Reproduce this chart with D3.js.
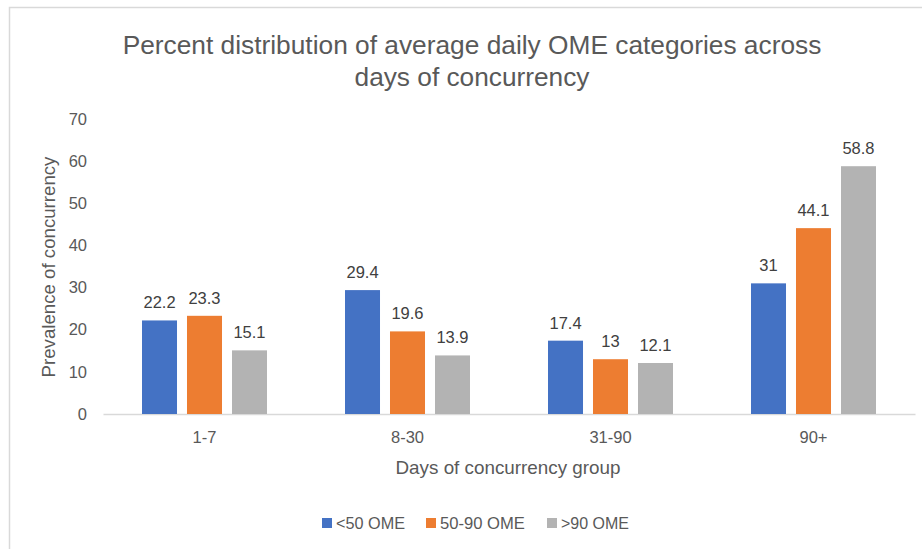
<!DOCTYPE html>
<html>
<head>
<meta charset="utf-8">
<script src="https://cdn.jsdelivr.net/npm/d3@7"></script>
<style>
  html, body { margin: 0; padding: 0; background: #fff; }
  svg { display: block; font-family: "Liberation Sans", Arial, sans-serif; }
</style>
</head>
<body>
<svg id="chart" width="922" height="549"></svg>
<script>
// ---- data ----
const categories = ["1-7", "8-30", "31-90", "90+"];
const seriesNames = ["<50 OME", "50-90 OME", ">90 OME"];
const under50 = [22.2, 29.4, 17.4, 31];
const from50to90 = [23.3, 19.6, 13, 44.1];
const over90 = [15.1, 13.9, 12.1, 58.8];
const yTicks = [0, 10, 20, 30, 40, 50, 60, 70];
const titleLines = ["Percent distribution of average daily OME categories across", "days of concurrency"];
const xTitle = "Days of concurrency group";
const yTitle = "Prevalence of concurrency";

const seriesValues = [under50, from50to90, over90];
const colors = ["#4472c4", "#ed7d31", "#b3b3b3"];

const svg = d3.select("#chart");
const W = 922, H = 549;

// chart frame (top + left edges visible)
svg.append("rect").attr("x", 9.5).attr("y", 7.5).attr("width", W + 20).attr("height", H + 20)
  .attr("fill", "#fff").attr("stroke", "#d9d9d9").attr("stroke-width", 1.5);

function fit(sel, target) {
  sel.each(function () {
    const cur = parseFloat(this.getAttribute("font-size"));
    const w = this.getComputedTextLength();
    if (w > 0) this.setAttribute("font-size", (cur * target / w).toFixed(2));
  });
}

// title
const titleTargets = [699, 235];
titleLines.forEach((t, i) => {
  const el = svg.append("text").attr("x", 472).attr("y", 54 + i * 32)
    .attr("text-anchor", "middle").attr("font-size", 24).attr("fill", "#595959").text(t);
  fit(el, titleTargets[i]);
});

// scales
const x0 = d3.scaleBand().domain(categories).range([103, 915]).paddingInner(0).paddingOuter(0);
const x1 = d3.scaleBand().domain(seriesNames).range([-62.5, 62.5]).paddingInner(0.222).paddingOuter(0);
const y = d3.scaleLinear().domain([0, 70]).range([414, 119]);

// y axis (labels only)
const yAxis = d3.axisLeft(y).tickValues(yTicks).tickSize(0).tickPadding(0).tickFormat(d3.format("d"));
const gy = svg.append("g").attr("transform", "translate(87,0)").call(yAxis);
gy.select(".domain").remove();
gy.selectAll("text").attr("font-size", 16.5).attr("fill", "#595959").attr("font-family", "Liberation Sans, Arial, sans-serif");

// x axis
const xAxis = d3.axisBottom(x0).tickSize(0).tickPadding(17);
const gx = svg.append("g").attr("transform", "translate(0,414)").call(xAxis);
gx.select(".domain").attr("stroke", "#d9d9d9").attr("stroke-width", 1.5);
gx.selectAll("text").attr("font-size", 16.5).attr("fill", "#595959").attr("font-family", "Liberation Sans, Arial, sans-serif");

// bars
const rows = categories.map((c, i) => ({ cat: c, vals: seriesNames.map((s, j) => ({ s, j, v: seriesValues[j][i] })) }));
const groups = svg.append("g").selectAll("g").data(rows).join("g")
  .attr("transform", d => `translate(${x0(d.cat) + x0.bandwidth() / 2},0)`);
groups.selectAll("rect").data(d => d.vals).join("rect")
  .attr("x", d => x1(d.s)).attr("width", x1.bandwidth())
  .attr("y", d => y(d.v)).attr("height", d => y(0) - y(d.v))
  .attr("fill", d => colors[d.j]);
groups.selectAll("text").data(d => d.vals).join("text")
  .attr("x", d => x1(d.s) + x1.bandwidth() / 2).attr("y", d => y(d.v) - 12)
  .attr("text-anchor", "middle").attr("font-size", 16.5).attr("fill", "#404040")
  .text(d => d.v);

// axis titles
const xt = svg.append("text").attr("x", 508).attr("y", 474).attr("text-anchor", "middle")
  .attr("font-size", 17).attr("fill", "#595959").text(xTitle);
fit(xt, 225);
const yt = svg.append("text").attr("transform", "translate(55,267) rotate(-90)").attr("text-anchor", "middle")
  .attr("font-size", 17).attr("fill", "#595959").text(yTitle);
fit(yt, 221);

// legend
const legendX = [322, 426, 547];
const legendTextW = [69, 85, 68];
const lg = svg.append("g").selectAll("g").data(seriesNames).join("g")
  .attr("transform", (d, i) => `translate(${legendX[i]},523)`);
lg.append("rect").attr("x", 0).attr("y", -5).attr("width", 10).attr("height", 10).attr("fill", (d, i) => colors[i]);
lg.append("text").attr("x", 14).attr("y", 6).attr("font-size", 16).attr("fill", "#595959").text(d => d)
  .each(function (d, i) { fit(d3.select(this), legendTextW[i]); });
</script>
</body>
</html>
